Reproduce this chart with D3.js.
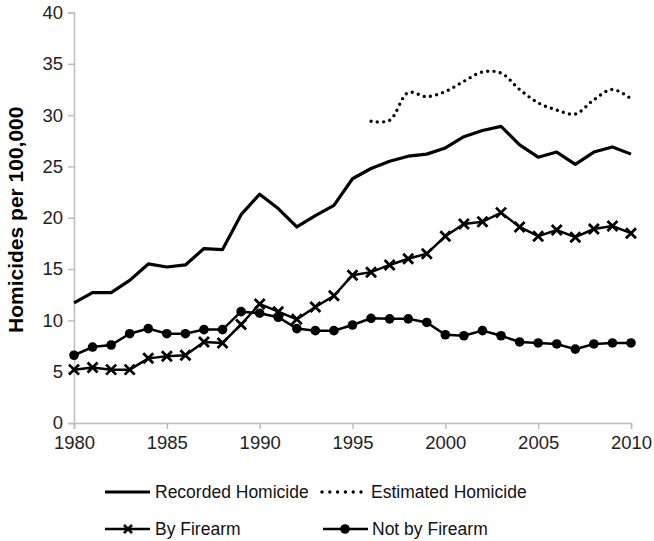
<!DOCTYPE html>
<html>
<head>
<meta charset="utf-8">
<script src="https://cdn.jsdelivr.net/npm/d3@7"></script>
<style>
	body { margin: 0; background: #fff; }
	svg { display: block; font-family: "Liberation Sans", Arial, sans-serif; }
</style>
</head>
<body>
<svg id="chart" width="654" height="541"></svg>
<script>
const years = d3.range(1980, 2011);
const recorded = [11.7, 12.7, 12.7, 13.9, 15.5, 15.2, 15.4, 17.0, 16.9, 20.3, 22.3, 20.9, 19.1, 20.2, 21.2,
	23.8, 24.8, 25.5, 26.0, 26.2, 26.8, 27.9, 28.5, 28.9, 27.1, 25.9, 26.4, 25.2, 26.4, 26.9, 26.2];
const estimatedYears = d3.range(1996, 2011);
const estimated = [29.4, 29.5, 32.2, 31.8, 32.3, 33.3, 34.2, 34.1, 32.5, 31.2, 30.5, 30.1, 31.5, 32.5, 31.6];
const byFirearm = [5.2, 5.4, 5.2, 5.2, 6.3, 6.5, 6.6, 7.9, 7.8, 9.6, 11.6, 10.85, 10.1, 11.3, 12.4,
	14.4, 14.7, 15.4, 16.0, 16.5, 18.2, 19.4, 19.6, 20.5, 19.1, 18.2, 18.8, 18.1, 18.9, 19.2, 18.5];
const notFirearm = [6.6, 7.4, 7.6, 8.7, 9.2, 8.7, 8.7, 9.1, 9.1, 10.85, 10.7, 10.3, 9.2, 9.0, 9.0,
	9.55, 10.2, 10.15, 10.15, 9.8, 8.6, 8.5, 9.0, 8.5, 7.9, 7.8, 7.7, 7.2, 7.7, 7.8, 7.8];
const xTicks = [1980, 1985, 1990, 1995, 2000, 2005, 2010];
const yTicks = [0, 5, 10, 15, 20, 25, 30, 35, 40];
const legendLabels = ["Recorded Homicide", "Estimated Homicide", "By Firearm", "Not by Firearm"];

const svg = d3.select("#chart");
const margin = { left: 74, right: 23, top: 12.5, bottom: 118 };
const width = 654, height = 541;

const x = d3.scaleLinear().domain([1980, 2010]).range([margin.left, width - margin.right]);
const y = d3.scaleLinear().domain([0, 40]).range([height - margin.bottom, margin.top]);

// Axes
const xAxis = svg.append("g")
	.attr("transform", `translate(0, ${y(0)})`)
	.call(d3.axisBottom(x).tickValues(xTicks).tickFormat(d3.format("d")).tickSize(6).tickPadding(7));
const yAxis = svg.append("g")
	.attr("transform", `translate(${margin.left}, 0)`)
	.call(d3.axisLeft(y).tickValues(yTicks).tickSize(6).tickPadding(5));

for (const axis of [xAxis, yAxis]) {
	axis.select(".domain").attr("stroke", "#bdbdbd").attr("stroke-width", 1.5);
	axis.selectAll(".tick line").attr("stroke", "#bdbdbd").attr("stroke-width", 1.5);
	axis.selectAll(".tick text").attr("fill", "#222").style("font-size", "18.5px");
}

// Y axis title
svg.append("text")
	.attr("transform", `translate(23, ${y(20) + 2}) rotate(-90)`)
	.attr("text-anchor", "middle")
	.style("font-size", "21px")
	.style("font-weight", "bold")
	.text("Homicides per 100,000");

const line = d3.line()
	.x(d => x(d[0]))
	.y(d => y(d[1]));

const zip = (xs, ys) => xs.map((v, i) => [v, ys[i]]);

// Recorded Homicide
svg.append("path")
	.datum(zip(years, recorded))
	.attr("fill", "none")
	.attr("stroke", "#000")
	.attr("stroke-width", 3.2)
	.attr("stroke-linejoin", "round")
	.attr("d", line);

// Estimated Homicide (dotted, smoothed)
svg.append("path")
	.datum(zip(estimatedYears, estimated))
	.attr("fill", "none")
	.attr("stroke", "#000")
	.attr("stroke-width", 3.4)
	.attr("stroke-linecap", "round")
	.attr("stroke-dasharray", "0 6.3")
	.attr("d", line.curve(d3.curveCatmullRom.alpha(0.5)));
line.curve(d3.curveLinear);

// By Firearm
const crossPath = s => `M${-s},${-s}L${s},${s}M${-s},${s}L${s},${-s}`;

svg.append("path")
	.datum(zip(years, byFirearm))
	.attr("fill", "none")
	.attr("stroke", "#000")
	.attr("stroke-width", 2.5)
	.attr("d", line);
svg.append("g").selectAll("path")
	.data(zip(years, byFirearm))
	.join("path")
	.attr("transform", d => `translate(${x(d[0])}, ${y(d[1])})`)
	.attr("d", crossPath(5))
	.attr("stroke", "#000")
	.attr("stroke-width", 2.8)
	.attr("fill", "none");

// Not by Firearm
svg.append("path")
	.datum(zip(years, notFirearm))
	.attr("fill", "none")
	.attr("stroke", "#000")
	.attr("stroke-width", 2.5)
	.attr("d", line);
svg.append("g").selectAll("circle")
	.data(zip(years, notFirearm))
	.join("circle")
	.attr("cx", d => x(d[0]))
	.attr("cy", d => y(d[1]))
	.attr("r", 4.8)
	.attr("fill", "#000");

// Legend
const legendItems = [
	{ label: legendLabels[0], x: 105, y: 492, type: "solid" },
	{ label: legendLabels[1], x: 322, y: 492, type: "dotted" },
	{ label: legendLabels[2], x: 105, y: 529, type: "cross" },
	{ label: legendLabels[3], x: 323, y: 529, type: "circle" }
];

const legend = svg.append("g").selectAll("g")
	.data(legendItems)
	.join("g")
	.attr("transform", d => `translate(${d.x}, ${d.y})`);

legend.append("line")
	.attr("x1", 0)
	.attr("x2", d => d.type === "dotted" ? 40 : 45)
	.attr("stroke", "#000")
	.attr("stroke-width", d => d.type === "solid" ? 3.2 : d.type === "dotted" ? 3.4 : 2.5)
	.attr("stroke-linecap", d => d.type === "dotted" ? "round" : "butt")
	.attr("stroke-dasharray", d => d.type === "dotted" ? "0 7.8" : null);

legend.filter(d => d.type === "cross").append("path")
	.attr("transform", "translate(23, 0)")
	.attr("d", crossPath(4))
	.attr("stroke", "#000")
	.attr("stroke-width", 2.6);

legend.filter(d => d.type === "circle").append("circle")
	.attr("cx", 22)
	.attr("r", 4.8)
	.attr("fill", "#000");

legend.append("text")
	.attr("x", d => d.type === "dotted" || d.type === "circle" ? 49 : 50)
	.attr("dy", "0.35em")
	.style("font-size", "17.5px")
	.attr("fill", "#111")
	.text(d => d.label);
</script>
</body>
</html>
